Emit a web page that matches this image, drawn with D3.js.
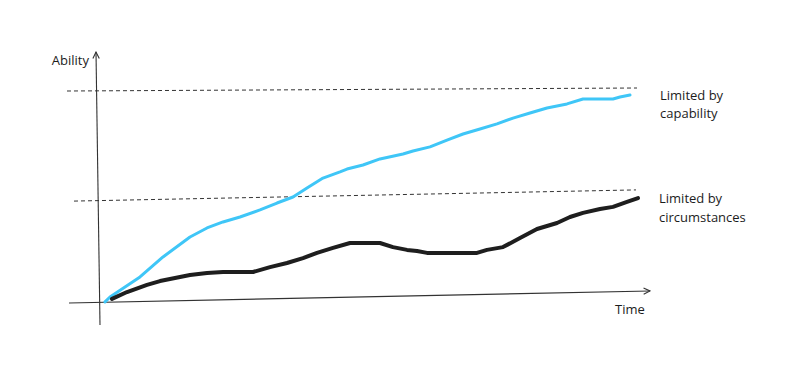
<!DOCTYPE html>
<html lang="en">
<head>
    <meta charset="UTF-8">
    <title>Ability over time</title>
    <script src="https://d3js.org/d3.v7.min.js"></script>
    <style>
        body { margin: 0; background: #fff; }
        text { font-family: "Open Sans", sans-serif; font-size: 13px; fill: #1c1c1c; }
    </style>
</head>
<body>
    <svg width="799" height="374"></svg>

    <script>
        // Sketch data (time 0..110, ability 0..100)
        const capabilityTime = [1, 2, 8, 12.6, 18, 21.4, 24.6, 28, 32, 35.4, 38.6, 41.4, 44.6, 48, 49.4, 52.6, 56, 60.6, 62.6, 66, 69.4, 72.6, 76, 79.4, 82.6, 86, 89.4, 91.4, 93.4, 96.6, 99.4, 102.6, 104, 106];
        const capabilityValue = [0.5, 2.8, 12.1, 21.4, 30.7, 34.9, 37.7, 40.0, 43.3, 46.5, 49.3, 53.5, 58.1, 61.0, 62.3, 64.2, 67.0, 69.3, 70.7, 72.6, 75.8, 78.6, 80.9, 83.3, 86.0, 88.4, 90.7, 91.6, 92.6, 94.9, 94.9, 94.9, 95.8, 96.7];

        const circumstanceTime = [2.4, 5.4, 9.4, 12, 16, 18, 21.4, 24.6, 30.6, 34, 37.4, 40.6, 43.4, 46.6, 50, 56, 58.6, 61.4, 63.4, 65.4, 75.4, 77.4, 80.6, 84, 87.4, 91.4, 94, 96.6, 100, 102.6, 105.4, 107.6];
        const circumstanceValue = [1.9, 5.1, 8.4, 10.2, 12.1, 13.0, 14.0, 14.4, 14.4, 16.7, 18.6, 20.9, 23.3, 25.6, 27.9, 27.9, 26.0, 24.7, 24.2, 23.3, 23.3, 24.7, 26.0, 30.2, 34.4, 37.2, 40.0, 41.9, 43.7, 44.7, 47.0, 48.8];

        // hand drawn axes and limit lines: [time, ability] end points
        const xAxisEnds = [[-6.2, 0], [110, 5.6]];
        const yAxisEnds = [[0, -10.2], [-0.8, 116.7]];
        const capabilityLimit = [[-6.6, 98.6], [107.4, 100]];
        const circumstanceLimit = [[-5.2, 47.4], [107.2, 52.6]];

        const labels = { y: "Ability", x: "Time", capability: ["Limited by", "capability"], circumstance: ["Limited by", "circumstances"] };

        const svg = d3.select("svg");

        const x = d3.scaleLinear().domain([0, 110]).range([100, 650]);
        const y = d3.scaleLinear().domain([0, 100]).range([303, 88]);

        const line = d3.line().x(d => x(d[0])).y(d => y(d[1]));

        // arrow head
        svg.append("defs").append("marker")
            .attr("id", "arrow")
            .attr("viewBox", "0 0 10 10")
            .attr("refX", 9).attr("refY", 5)
            .attr("markerWidth", 8).attr("markerHeight", 8)
            .attr("markerUnits", "userSpaceOnUse")
            .attr("orient", "auto")
            .append("path")
            .attr("d", "M1,1 L9,5 L1,9")
            .attr("fill", "none")
            .attr("stroke", "#333")
            .attr("stroke-width", 1.4);

        // axes
        [xAxisEnds, yAxisEnds].forEach(ends => {
            svg.append("path")
                .datum(ends)
                .attr("d", line)
                .attr("fill", "none")
                .attr("stroke", "#333")
                .attr("stroke-width", 1.1)
                .attr("marker-end", "url(#arrow)");
        });

        // dashed limits
        [capabilityLimit, circumstanceLimit].forEach(ends => {
            svg.append("path")
                .datum(ends)
                .attr("d", line)
                .attr("fill", "none")
                .attr("stroke", "#333")
                .attr("stroke-width", 1)
                .attr("stroke-dasharray", "4,3");
        });

        // the two curves
        const capability = capabilityTime.map((t, i) => [t, capabilityValue[i]]);
        const circumstance = circumstanceTime.map((t, i) => [t, circumstanceValue[i]]);

        svg.append("path")
            .datum(capability)
            .attr("d", line)
            .attr("fill", "none")
            .attr("stroke", "#3fc6f7")
            .attr("stroke-width", 3)
            .attr("stroke-linejoin", "round")
            .attr("stroke-linecap", "round");

        svg.append("path")
            .datum(circumstance)
            .attr("d", line)
            .attr("fill", "none")
            .attr("stroke", "#1e1e1e")
            .attr("stroke-width", 4)
            .attr("stroke-linejoin", "round")
            .attr("stroke-linecap", "round");

        // labels
        svg.append("text")
            .attr("x", x(-2.2)).attr("y", 65)
            .attr("text-anchor", "end")
            .text(labels.y);

        svg.append("text")
            .attr("x", x(103)).attr("y", 314)
            .text(labels.x);

        labels.capability.forEach((s, i) => {
            svg.append("text")
                .attr("x", x(112)).attr("y", 100 + i * 18)
                .text(s);
        });

        labels.circumstance.forEach((s, i) => {
            svg.append("text")
                .attr("x", x(111.8)).attr("y", 203 + i * 18.5)
                .text(s);
        });
    </script>
</body>
</html>
